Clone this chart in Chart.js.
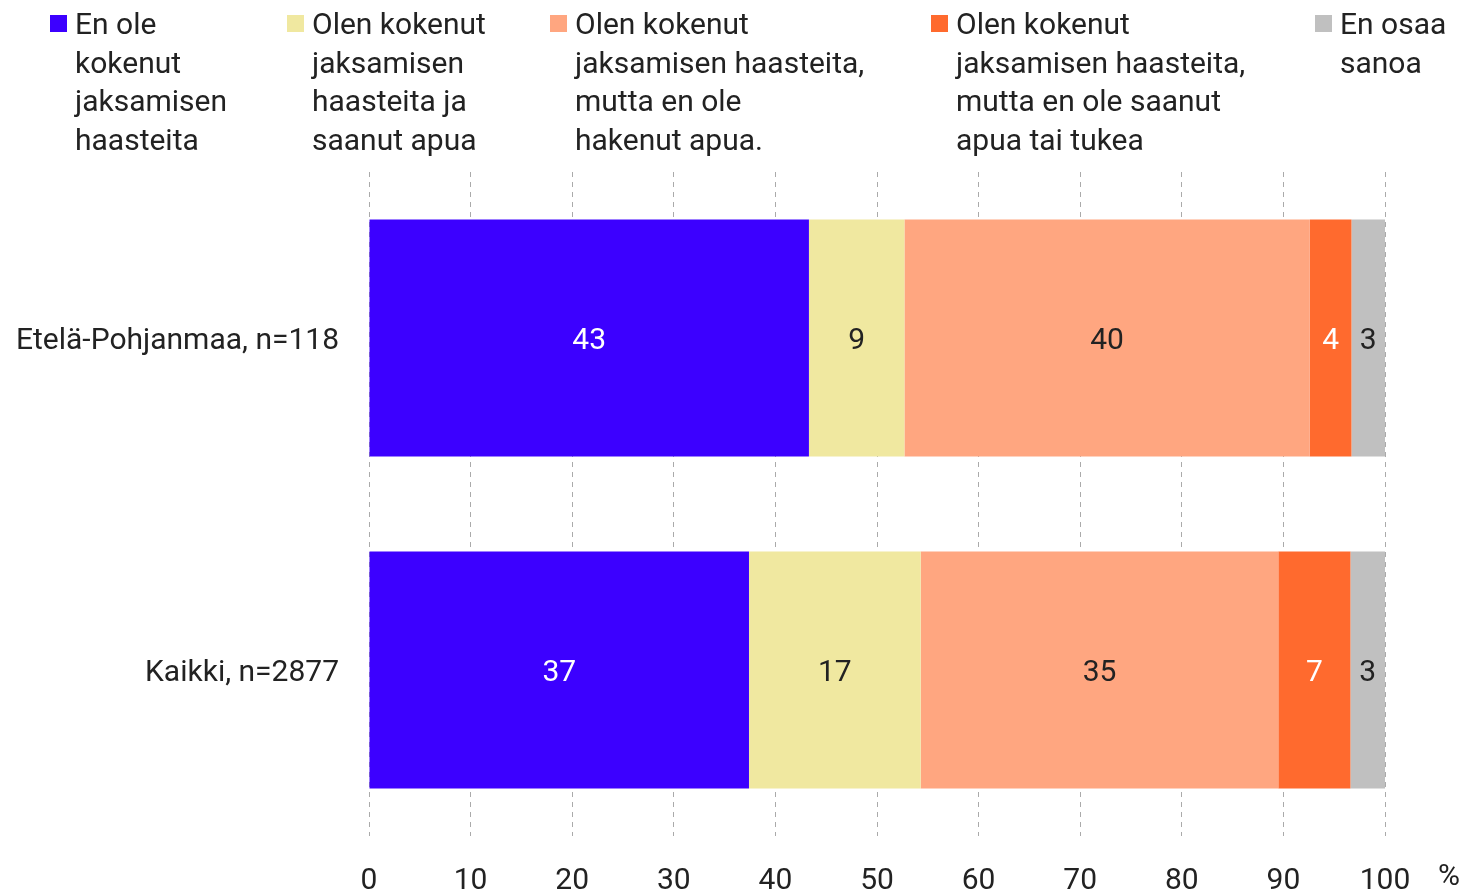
<!DOCTYPE html>
<html>
<head>
<meta charset="utf-8">
<script src="https://cdn.jsdelivr.net/npm/chart.js@4"></script>
<style>
  body { margin: 0; background: #fff; font-family: Roboto, sans-serif; color: #222; }
  #wrap { position: relative; width: 1465px; height: 892px; }
  #legend { position: absolute; top: 0; left: 0; width: 1465px; height: 170px; }
  .item { position: absolute; top: 4px; font-size: 30px; line-height: 38.5px; }
  .item .box { position: absolute; left: 0; top: 11px; width: 17px; height: 17px; }
  .item .txt { position: absolute; left: 25px; top: 1px; white-space: nowrap; }
</style>
</head>
<body>
<div id="wrap">
  <canvas id="chart" width="1465" height="892"></canvas>
  <div id="legend"></div>
</div>
<script>
// --- data ---
const categories = ['Etelä-Pohjanmaa, n=118', 'Kaikki, n=2877'];
const seriesNames = [
    ['En ole', 'kokenut', 'jaksamisen', 'haasteita'],
    ['Olen kokenut', 'jaksamisen', 'haasteita ja', 'saanut apua'],
    ['Olen kokenut', 'jaksamisen haasteita,', 'mutta en ole', 'hakenut apua.'],
    ['Olen kokenut', 'jaksamisen haasteita,', 'mutta en ole saanut', 'apua tai tukea'],
    ['En osaa', 'sanoa']
];
const notExperienced = [43.3, 37.4];
const gotHelp = [9.4, 16.9];
const notSought = [39.9, 35.2];
const notReceived = [4.1, 7.1];
const dontKnow = [3.3, 3.4];
const xTicks = [0, 10, 20, 30, 40, 50, 60, 70, 80, 90, 100];

const colors = ['#3c00ff', '#f0e8a0', '#ffa680', '#ff6a2e', '#c0c0c0'];
const labelColors = ['#ffffff', '#222222', '#222222', '#ffffff', '#222222'];
const legendLeft = [50, 287, 550, 931, 1315];
const FONT = 'Roboto, sans-serif';

const values = [notExperienced, gotHelp, notSought, notReceived, dontKnow];

// --- html legend ---
const legendEl = document.getElementById('legend');
seriesNames.forEach((lines, i) => {
    const item = document.createElement('div');
    item.className = 'item';
    item.style.left = legendLeft[i] + 'px';
    item.innerHTML = '<span class="box" style="background:' + colors[i] + '"></span>' +
        '<span class="txt">' + lines.join('<br>') + '</span>';
    legendEl.appendChild(item);
});

// value labels inside the bars
const barLabels = {
    id: 'barLabels',
    afterDatasetsDraw(chart) {
        const ctx = chart.ctx;
        ctx.save();
        ctx.font = '30px ' + FONT;
        ctx.textAlign = 'center';
        ctx.textBaseline = 'middle';
        chart.data.datasets.forEach((ds, i) => {
            chart.getDatasetMeta(i).data.forEach((bar, j) => {
                const p = bar.getProps(['x', 'y', 'base'], true);
                ctx.fillStyle = labelColors[i];
                ctx.fillText(Math.round(ds.data[j]), (p.x + p.base) / 2, p.y + 3);
            });
        });
        // unit label
        ctx.fillStyle = '#222';
        ctx.fillText('%', 1449, 877);
        ctx.restore();
    }
};

new Chart(document.getElementById('chart').getContext('2d'), {
    type: 'bar',
    data: {
        labels: categories,
        datasets: values.map((v, i) => ({
            label: seriesNames[i].join(' '),
            data: v,
            backgroundColor: colors[i],
            borderWidth: 0,
            categoryPercentage: 1,
            barPercentage: 0.714
        }))
    },
    options: {
        indexAxis: 'y',
        responsive: false,
        animation: false,
        layout: { padding: { top: 172, right: 80, left: 0, bottom: 0 } },
        plugins: {
            legend: { display: false },
            tooltip: { enabled: false }
        },
        scales: {
            x: {
                stacked: true,
                min: 0,
                max: 100,
                afterBuildTicks: scale => { scale.ticks = xTicks.map(v => ({ value: v })); },
                afterFit: scale => { scale.height = 56; },
                border: { display: false, dash: [5, 5] },
                grid: { color: '#aaaaaa', lineWidth: 1, drawTicks: false },
                ticks: { color: '#222', padding: 27, font: { family: FONT, size: 30 } }
            },
            y: {
                stacked: true,
                afterFit: scale => { scale.width = 369; },
                border: { display: false },
                grid: { display: false, drawTicks: false },
                ticks: { color: '#222', padding: 30, labelOffset: 3, font: { family: FONT, size: 30 } }
            }
        }
    },
    plugins: [barLabels]
});
</script>
</body>
</html>
